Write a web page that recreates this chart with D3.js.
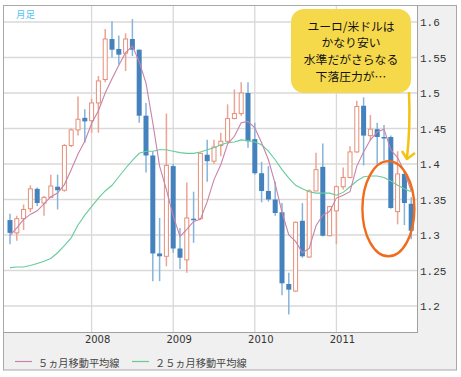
<!DOCTYPE html>
<html>
<head>
<meta charset="utf-8">
<script src="https://cdn.jsdelivr.net/npm/d3@7"></script>
<style>
  body { margin: 0; background: #fff; }
  svg { display: block; }
</style>
</head>
<body>
<svg id="chart" width="461" height="377"></svg>
<script>
// monthly EUR/USD candles, Jan 2007 - Dec 2011
const months = [
  '2007-01','2007-02','2007-03','2007-04','2007-05','2007-06','2007-07','2007-08','2007-09','2007-10','2007-11','2007-12',
  '2008-01','2008-02','2008-03','2008-04','2008-05','2008-06','2008-07','2008-08','2008-09','2008-10','2008-11','2008-12',
  '2009-01','2009-02','2009-03','2009-04','2009-05','2009-06','2009-07','2009-08','2009-09','2009-10','2009-11','2009-12',
  '2010-01','2010-02','2010-03','2010-04','2010-05','2010-06','2010-07','2010-08','2010-09','2010-10','2010-11','2010-12',
  '2011-01','2011-02','2011-03','2011-04','2011-05','2011-06','2011-07','2011-08','2011-09','2011-10','2011-11','2011-12'
];
const open = [
  1.321,1.303,1.323,1.337,1.365,1.345,1.353,1.368,1.363,1.426,1.448,1.465,
  1.461,1.486,1.519,1.576,1.562,1.556,1.576,1.561,1.468,1.412,1.274,1.270,
  1.397,1.281,1.265,1.323,1.323,1.413,1.404,1.426,1.432,1.464,1.471,1.500,
  1.435,1.387,1.362,1.350,1.332,1.231,1.221,1.320,1.269,1.362,1.396,1.299,
  1.334,1.368,1.381,1.417,1.482,1.440,1.449,1.438,1.438,1.333,1.386,1.344
];
const high = [
  1.330,1.327,1.343,1.370,1.367,1.355,1.385,1.385,1.428,1.450,1.495,1.477,
  1.492,1.524,1.590,1.601,1.581,1.584,1.604,1.561,1.486,1.418,1.324,1.471,
  1.400,1.310,1.374,1.361,1.416,1.434,1.434,1.444,1.484,1.505,1.515,1.515,
  1.458,1.403,1.397,1.375,1.345,1.247,1.319,1.345,1.364,1.416,1.429,1.341,
  1.370,1.395,1.425,1.489,1.494,1.469,1.458,1.455,1.440,1.418,1.390,1.353
];
const low = [
  1.287,1.292,1.307,1.332,1.341,1.327,1.353,1.336,1.361,1.424,1.440,1.430,
  1.444,1.444,1.515,1.550,1.540,1.531,1.552,1.458,1.388,1.235,1.235,1.256,
  1.275,1.252,1.247,1.289,1.322,1.375,1.400,1.411,1.430,1.463,1.468,1.423,
  1.385,1.346,1.347,1.327,1.215,1.188,1.220,1.268,1.268,1.362,1.298,1.298,
  1.287,1.364,1.380,1.416,1.398,1.433,1.398,1.405,1.337,1.315,1.314,1.294
];
const close = [
  1.303,1.323,1.336,1.365,1.345,1.353,1.369,1.363,1.426,1.448,1.463,1.460,
  1.486,1.517,1.576,1.561,1.554,1.576,1.561,1.468,1.412,1.274,1.270,1.398,
  1.281,1.268,1.324,1.322,1.415,1.404,1.424,1.432,1.464,1.471,1.500,1.432,
  1.387,1.362,1.350,1.331,1.232,1.223,1.318,1.270,1.362,1.392,1.299,1.340,
  1.368,1.381,1.417,1.481,1.440,1.449,1.438,1.436,1.338,1.386,1.345,1.306
];
// moving averages as drawn
const ma5 = [
  1.299,1.310,1.322,1.329,1.334,1.344,1.354,1.359,1.371,1.392,1.414,1.432,
  1.457,1.475,1.500,1.520,1.539,1.557,1.566,1.544,1.514,1.458,1.397,1.364,
  1.327,1.298,1.308,1.319,1.322,1.347,1.378,1.399,1.428,1.439,1.458,1.460,
  1.451,1.430,1.406,1.372,1.332,1.300,1.291,1.275,1.281,1.313,1.328,1.333,
  1.352,1.356,1.361,1.397,1.417,1.434,1.445,1.449,1.420,1.409,1.389,1.362
];
const ma25 = [
  1.254,1.255,1.255,1.257,1.260,1.263,1.267,1.275,1.285,1.296,1.314,1.328,
  1.340,1.352,1.362,1.370,1.382,1.394,1.405,1.415,1.418,1.418,1.420,1.420,
  1.418,1.416,1.415,1.415,1.417,1.420,1.423,1.427,1.430,1.431,1.434,1.433,
  1.431,1.427,1.418,1.406,1.392,1.380,1.370,1.365,1.361,1.359,1.359,1.359,
  1.356,1.360,1.368,1.376,1.382,1.383,1.383,1.381,1.376,1.370,1.365,1.361
];
const yTicks = [1.2, 1.25, 1.3, 1.35, 1.4, 1.45, 1.5, 1.55, 1.6];
const yearTicks = ['2008-01', '2009-01', '2010-01', '2011-01'];
const yearLabels = ['2008', '2009', '2010', '2011'];
const legendLabels = ['５ヵ月移動平均線', '２５ヵ月移動平均線'];
const noteLines = ['ユーロ/米ドルは', 'かなり安い', '水準だがさらなる', '下落圧力が…'];

const svg = d3.select('#chart');
const plot = { left: 4, top: 6, right: 417, bottom: 332 };

const x = d3.scaleBand().domain(months).range([6.6, 414.6]);
const cx = m => x(m) + x.bandwidth() / 2;
const y = d3.scaleLinear().domain([1.1634, 1.6225]).range([plot.bottom, plot.top]);

// frame and plot background
svg.append('rect')
  .attr('x', 3.5).attr('y', 5.5).attr('width', 453).attr('height', 364.5)
  .attr('fill', '#f0f0f0').attr('stroke', '#a8a8a8');
svg.append('rect')
  .attr('x', plot.left).attr('y', plot.top)
  .attr('width', plot.right - plot.left).attr('height', plot.bottom - plot.top)
  .attr('fill', '#fff');

svg.append('clipPath').attr('id', 'clip')
  .append('rect')
  .attr('x', plot.left).attr('y', plot.top)
  .attr('width', plot.right - plot.left).attr('height', plot.bottom - plot.top);

// grid
const grid = svg.append('g');
grid.selectAll('line.h').data(yTicks).enter().append('line')
  .attr('x1', plot.left).attr('x2', plot.right)
  .attr('y1', d => y(d)).attr('y2', d => y(d))
  .attr('stroke', '#d9d9d9').attr('stroke-width', 1.3);
grid.selectAll('line.v').data(yearTicks).enter().append('line')
  .attr('x1', d => cx(d)).attr('x2', d => cx(d))
  .attr('y1', plot.top).attr('y2', plot.bottom)
  .attr('stroke', '#d9d9d9').attr('stroke-width', 1.3);

// plot borders
svg.append('line').attr('x1', plot.left - 0.5).attr('x2', plot.right).attr('y1', plot.bottom + 0.5).attr('y2', plot.bottom + 0.5)
  .attr('stroke', '#a0a0a0');
svg.append('line').attr('x1', plot.right + 0.5).attr('x2', plot.right + 0.5).attr('y1', plot.top).attr('y2', plot.bottom + 1)
  .attr('stroke', '#a0a0a0');

// candles
const data = months.map((m, i) => ({ m, o: open[i], h: high[i], l: low[i], c: close[i] }));
const g = svg.append('g').attr('clip-path', 'url(#clip)');

const candle = g.selectAll('g.candle').data(data).enter().append('g');
candle.append('line')
  .attr('x1', d => cx(d.m)).attr('x2', d => cx(d.m))
  .attr('y1', d => y(d.h)).attr('y2', d => y(d.l))
  .attr('stroke', d => d.c >= d.o ? '#eba491' : '#86b4dc')
  .attr('stroke-width', 1.5);
candle.append('rect')
  .attr('x', d => d.c >= d.o ? cx(d.m) - 2 : cx(d.m) - 2.5)
  .attr('width', d => d.c >= d.o ? 4 : 5)
  .attr('y', d => y(Math.max(d.o, d.c)))
  .attr('height', d => Math.max(1.5, Math.abs(y(d.o) - y(d.c))))
  .attr('fill', d => d.c >= d.o ? '#fff' : '#4382bd')
  .attr('stroke', d => d.c >= d.o ? '#e58f78' : 'none')
  .attr('stroke-width', 1);

// moving averages
const line = d3.line().x((d, i) => cx(months[i])).y(d => y(d));
g.append('path').attr('d', line(ma25))
  .attr('fill', 'none').attr('stroke', '#66cc99').attr('stroke-width', 1.1);
g.append('path').attr('d', line(ma5))
  .attr('fill', 'none').attr('stroke', '#c883a8').attr('stroke-width', 1.1);

// y axis labels
const yAxis = svg.append('g')
  .attr('transform', `translate(${plot.right},0)`)
  .call(d3.axisRight(y).tickValues(yTicks).tickSize(0).tickPadding(3).tickFormat(d => String(+d.toFixed(2))));
yAxis.select('.domain').remove();
yAxis.selectAll('text')
  .attr('font-family', '"Liberation Mono", "DejaVu Sans Mono", monospace')
  .attr('font-size', 11).attr('fill', '#333');

// x axis labels
const xAxis = svg.append('g')
  .attr('transform', `translate(6,${plot.bottom})`)
  .call(d3.axisBottom(x).tickValues(yearTicks).tickSize(0).tickPadding(4)
    .tickFormat(d => yearLabels[yearTicks.indexOf(d)]));
xAxis.select('.domain').remove();
xAxis.selectAll('text')
  .attr('font-family', '"DejaVu Sans", Verdana, sans-serif')
  .attr('font-size', 10).attr('fill', '#333');

// period label
svg.append('text').attr('x', 16).attr('y', 18)
  .attr('font-family', '"Noto Sans CJK JP", sans-serif').attr('font-size', 9.5)
  .attr('fill', '#55c3f0').text('月足');

// legend
const legendColors = ['#c883a8', '#66cc99'];
const legendX = [15, 132];
const lg = svg.append('g');
legendLabels.forEach((t, i) => {
  lg.append('line').attr('x1', legendX[i]).attr('x2', legendX[i] + 17)
    .attr('y1', 361.5).attr('y2', 361.5).attr('stroke', legendColors[i]).attr('stroke-width', 1.2);
  lg.append('text').attr('x', legendX[i] + 23).attr('y', 362)
    .attr('dominant-baseline', 'central')
    .attr('font-family', '"Noto Sans CJK JP", sans-serif').attr('font-size', 10.2)
    .attr('fill', '#444').text(t);
});

// circled area
g.append('ellipse')
  .attr('cx', x('2011-09') + 1).attr('cy', y(1.337))
  .attr('rx', 26).attr('ry', y(1.27) - y(1.337))
  .attr('fill', 'none').attr('stroke', '#f26b1d').attr('stroke-width', 2.4);

// call-out bubble and arrow
const note = svg.append('g');
note.append('path')
  .attr('d', 'M409,92 C410,115 409,140 407,158')
  .attr('fill', 'none').attr('stroke', '#f5c211').attr('stroke-width', 2.5);
note.append('path')
  .attr('d', 'M402,151 L407,159 L415,153')
  .attr('fill', 'none').attr('stroke', '#f5c211').attr('stroke-width', 2.5)
  .attr('stroke-linejoin', 'round');
note.append('rect')
  .attr('x', 291).attr('y', 9).attr('width', 120).attr('height', 84).attr('rx', 13)
  .attr('fill', '#f6d94b');
note.selectAll('text').data(noteLines).enter().append('text')
  .attr('x', 351).attr('y', (d, i) => 25 + i * 16.7)
  .attr('text-anchor', 'middle').attr('dominant-baseline', 'central')
  .attr('font-family', '"Noto Sans CJK JP", sans-serif').attr('font-size', 11.8)
  .attr('fill', '#111').text(d => d);
</script>
</body>
</html>
